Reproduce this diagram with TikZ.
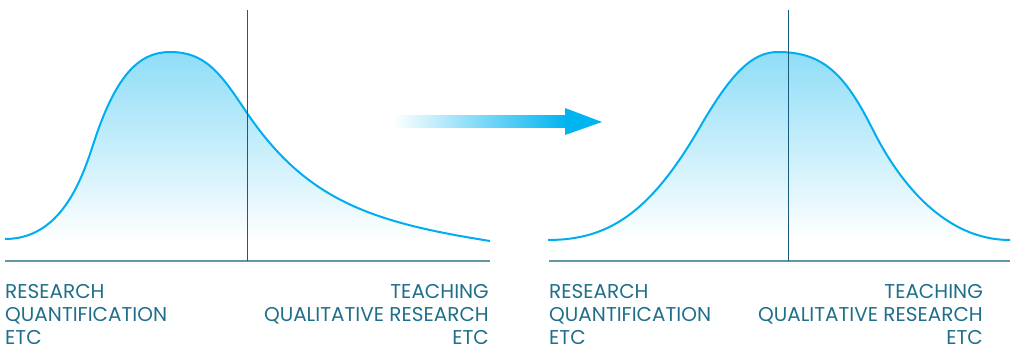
\documentclass[tikz,border=0pt]{standalone}
\usepackage{fontspec}
\setmainfont{Poppins}
\definecolor{curveblue}{HTML}{00AEEF}
\definecolor{fillblue}{HTML}{8FDDF7}
\definecolor{arrowblue}{HTML}{00B4F0}
\definecolor{markline}{HTML}{1A5A7A}
\definecolor{axisline}{HTML}{5F99A5}
\definecolor{labeltext}{HTML}{1F6F8B}
\begin{document}
\begin{tikzpicture}[
        x=1pt, y=-1pt,
        curve/.style={draw=curveblue, line width=2pt, top color=fillblue, bottom color=white},
        axis/.style={draw=axisline, line width=1.2pt},
        marker/.style={draw=markline, line width=1pt},
        label/.style={font=\fontsize{20}{23}\selectfont, text=labeltext, inner sep=0pt}
    ]
        \useasboundingbox (0,0) rectangle (1014,344);
        % skewed distribution (before)
        \path[curve] (5,239) .. controls (60,239) and (81,182) .. (93,145)
            .. controls (115,76.8) and (138,52) .. (170,52)
            .. controls (205,52) and (220,72.5) .. (245,110)
            .. controls (305,200) and (370,222) .. (490,241);
        \coordinate (lbase) at (5,261);
        \coordinate (rbase) at (490,261);
        \coordinate (mtop) at (247,10);
        \coordinate (mbot) at (247,261);
        \draw[axis] (lbase) -- (rbase);
        \draw[marker] (mtop) -- (mbot);
        % normal distribution (after)
        \path[curve] (548,240) .. controls (608,240) and (650,213.5) .. (700,127)
            .. controls (732,71.6) and (753,52) .. (778,52)
            .. controls (823,52) and (845,74) .. (873,130)
            .. controls (895,174) and (940,240) .. (1010,240);
        \coordinate (lbase2) at (549,261);
        \coordinate (rbase2) at (1010,261);
        \coordinate (mtop2) at (788,10);
        \coordinate (mbot2) at (788,261);
        \draw[axis] (lbase2) -- (rbase2);
        \draw[marker] (mtop2) -- (mbot2);
        % arrow
        \shade[left color=white, right color=arrowblue] (393,116) rectangle (566,128);
        \fill[arrowblue] (565,108) -- (602,122) -- (565,135) -- cycle;
        % labels
        \node[label, anchor=north west, align=left] (quant) at (5,284.5) {RESEARCH\\QUANTIFICATION\\ETC};
        \node[label, anchor=north east, align=right] (qual) at (489,284.5) {TEACHING\\QUALITATIVE RESEARCH\\ETC};
        \node[label, anchor=north west, align=left] (quant2) at (549,284.5) {RESEARCH\\QUANTIFICATION\\ETC};
        \node[label, anchor=north east, align=right] (qual2) at (983,284.5) {TEACHING\\QUALITATIVE RESEARCH\\ETC};
    \end{tikzpicture}
\end{document}
